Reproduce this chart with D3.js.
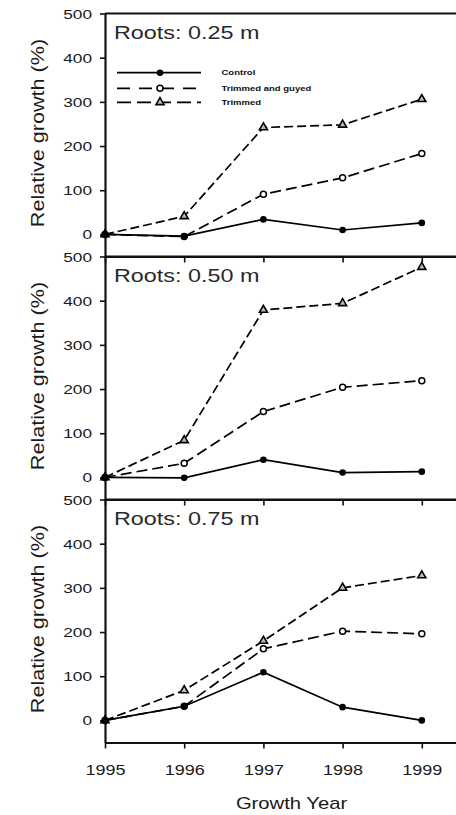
<!DOCTYPE html>
<html>
<head>
<meta charset="utf-8">
<script src="https://cdn.jsdelivr.net/npm/d3@7"></script>
<style>
  html, body { margin: 0; padding: 0; background: #fff; }
  svg { display: block; }
  text { font-family: "Liberation Sans", Arial, Helvetica, sans-serif; }
</style>
</head>
<body>
<svg id="chart" width="456" height="815"></svg>
<script>
// Growth years on the x axis
const years = [1995, 1996, 1997, 1998, 1999];

// One panel per rooting depth
const panelTitles = ["Roots: 0.25 m", "Roots: 0.50 m", "Roots: 0.75 m"];

// Relative growth (%) per treatment, one row per rooting depth
const controlGrowth = [
  [0, -4, 34, 10, 26],
  [0, -1, 40, 11, 13],
  [0, 32, 109, 30, 0]
];
const trimmedGuyedGrowth = [
  [0, -5, 91, 128, 183],
  [0, 32, 149, 204, 219],
  [0, 32, 162, 202, 196]
];
const trimmedGrowth = [
  [0, 41, 242, 248, 306],
  [0, 84, 379, 394, 476],
  [0, 68, 180, 300, 328]
];

const seriesNames = ["Control", "Trimmed and guyed", "Trimmed"];
const yTicks = [0, 100, 200, 300, 400, 500];
const yDomain = [-50, 500];

// ---- layout ----
const svg = d3.select("#chart");
const left = 105;
const firstTop = 13.5;
const panelH = 243;
const yearStep = 79.2;
const axisColor = "#111";

// x extends a little past 1999 so the frame runs off to the right
const xEnd = 1999.7;
const x = d3.scaleLinear()
  .domain([1995, xEnd])
  .range([left, left + (xEnd - 1995) * yearStep]);

// series styles
const styles = [
  { dash: null,   marker: "dot"    },
  { dash: "11,5", marker: "circle" },
  { dash: "9,4",  marker: "tri"    }
];

function drawMarker(g, kind, cx, cy) {
  if (kind === "dot") {
    g.append("circle").attr("cx", cx).attr("cy", cy).attr("r", 3.3)
      .attr("fill", "#000");
  } else if (kind === "circle") {
    g.append("circle").attr("cx", cx).attr("cy", cy).attr("r", 3)
      .attr("fill", "#fff").attr("stroke", "#000").attr("stroke-width", 1.5);
  } else {
    g.append("path")
      .attr("d", d3.symbol().type(d3.symbolTriangle).size(28)())
      .attr("transform", `translate(${cx},${cy})`)
      .attr("fill", "#bbb").attr("stroke", "#000").attr("stroke-width", 1.6);
  }
}

panelTitles.forEach((title, i) => {
  const top = firstTop + i * panelH;
  const y = d3.scaleLinear().domain(yDomain).range([top + panelH, top]);
  const g = svg.append("g");

  // top border
  g.append("line")
    .attr("x1", left).attr("x2", x.range()[1])
    .attr("y1", top).attr("y2", top)
    .attr("stroke", axisColor).attr("stroke-width", 2.2);

  // bottom axis (labels only under the last panel)
  const isLast = i === panelTitles.length - 1;
  const xAxis = d3.axisBottom(x).tickValues(years).tickSize(6).tickSizeOuter(0)
    .tickFormat(isLast ? d3.format("d") : () => "");
  const xg = g.append("g").attr("transform", `translate(0,${top + panelH})`).call(xAxis);
  xg.select(".domain").attr("stroke", axisColor).attr("stroke-width", 2.2);
  xg.selectAll(".tick line").attr("stroke", axisColor).attr("stroke-width", 1.6);
  const xsx = 1.2;
  xg.selectAll(".tick text")
    .attr("fill", "#1a1a1a")
    .attr("font-size", 15)
    .attr("y", 0).attr("dy", 0)
    .attr("transform", `translate(0,32.5) scale(${xsx},1)`);

  // left axis
  const yAxis = d3.axisLeft(y).tickValues(yTicks).tickSize(5).tickSizeOuter(0);
  const yg = g.append("g").attr("transform", `translate(${left},0)`).call(yAxis);
  yg.select(".domain").attr("stroke", axisColor).attr("stroke-width", 2.2);
  yg.selectAll(".tick line").attr("stroke", axisColor).attr("stroke-width", 1.6);
  const ysx = 1.38;
  yg.selectAll(".tick text")
    .attr("fill", "#1a1a1a")
    .attr("font-size", 12.5)
    .attr("x", -13 / ysx)
    .attr("dy", "0.36em")
    .attr("transform", `scale(${ysx},1)`);

  // y-axis title
  g.append("text")
    .attr("transform", `translate(43.5,${top + 119.5}) rotate(-90) scale(1.2,1)`)
    .attr("text-anchor", "middle")
    .attr("font-size", 18)
    .attr("fill", "#1a1a1a")
    .text("Relative growth (%)");

  // panel title
  g.append("text")
    .attr("transform", `translate(114,${top + 25.5}) scale(1.23,1)`)
    .attr("font-size", 19)
    .attr("fill", "#2a2a2a")
    .text(title);

  // series lines
  const seriesData = [controlGrowth[i], trimmedGuyedGrowth[i], trimmedGrowth[i]];
  const line = d3.line().x((d, j) => x(years[j])).y(d => y(d));
  [2, 1, 0].forEach(s => {
    g.append("path")
      .datum(seriesData[s])
      .attr("d", line)
      .attr("fill", "none")
      .attr("stroke", "#000")
      .attr("stroke-width", 1.7)
      .attr("stroke-dasharray", styles[s].dash);
  });
  [2, 1, 0].forEach(s => {
    seriesData[s].forEach((v, j) => drawMarker(g, styles[s].marker, x(years[j]), y(v)));
  });

  // legend in the first panel
  if (i === 0) {
    const lg = g.append("g");
    const rowY = [72.7, 88.3, 102.3];
    seriesNames.forEach((name, s) => {
      lg.append("line")
        .attr("x1", 117).attr("x2", 201)
        .attr("y1", rowY[s]).attr("y2", rowY[s])
        .attr("stroke", "#000").attr("stroke-width", 1.7)
        .attr("stroke-dasharray", s === 0 ? null : (s === 1 ? "13,9" : "14,6"));
      drawMarker(lg, styles[s].marker, 160, rowY[s]);
      lg.append("text")
        .attr("transform", `translate(221.5,${rowY[s] + 2.5}) scale(1.36,1)`)
        .attr("font-size", 7)
        .attr("font-weight", "bold")
        .attr("fill", "#111")
        .text(name);
    });
  }
});

// x-axis title
svg.append("text")
  .attr("transform", `translate(291.5,809) scale(1.19,1)`)
  .attr("text-anchor", "middle")
  .attr("font-size", 17)
  .attr("fill", "#1a1a1a")
  .text("Growth Year");
</script>
</body>
</html>
